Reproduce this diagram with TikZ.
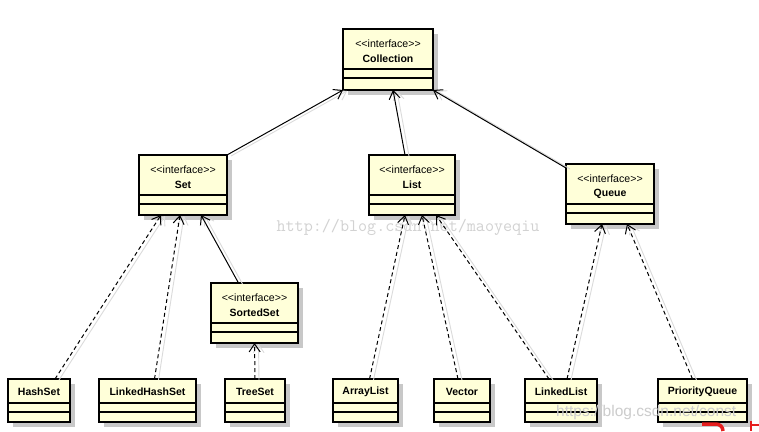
\documentclass[tikz,border=0pt]{standalone}
\usepackage{fontspec}
\setmainfont{Liberation Sans}
\usetikzlibrary{arrows.meta,calc}
\definecolor{boxfill}{RGB}{255,255,217}
\definecolor{shadowc}{RGB}{200,200,200}
\definecolor{wmgray}{RGB}{210,210,210}
\definecolor{logored}{RGB}{230,30,30}
\tikzset{
  boxst/.style={draw=black, line width=1.8pt, fill=boxfill, inner sep=0pt, outer sep=0pt, rectangle},
  sepline/.style={line width=1.2pt},
  stereo/.style={font=\fontsize{10.6}{12}\selectfont, inner sep=0pt},
  cname/.style={font=\bfseries\fontsize{10.5}{12}\selectfont, inner sep=0pt},
  conn/.style={line width=1pt, -{Straight Barb[length=8pt,width=11pt]},
    preaction={draw=black!14, solid, line width=0.9pt, transform canvas={shift={(4pt,-1pt)}}}},
  realize/.style={conn, dash pattern=on 4pt off 3pt},
}
\newcommand\ifbox[6]{%
  \fill[shadowc] (#2+5,#3+5) rectangle (#4+5,#5+5);
  \node[boxst, anchor=north west, minimum width=#4pt-#2pt, minimum height=#5pt-#3pt] (#1) at (#2,#3) {};
  \draw[sepline] ([yshift=-40pt]#1.north west) -- ([yshift=-40pt]#1.north east);
  \draw[sepline] ([yshift=-49pt]#1.north west) -- ([yshift=-49pt]#1.north east);
  \node[stereo] (#1-st) at ([yshift=-15pt]#1.north) {<\kern0pt<\kern0pt interface>\kern0pt>};
  \node[cname] (#1-nm) at ([yshift=-30pt]#1.north) {#6};
}
\newcommand\clbox[6]{%
  \fill[shadowc] (#2+5,#3+5) rectangle (#4+5,#5+5);
  \node[boxst, anchor=north west, minimum width=#4pt-#2pt, minimum height=#5pt-#3pt] (#1) at (#2,#3) {};
  \draw[sepline] ([yshift=-24pt]#1.north west) -- ([yshift=-24pt]#1.north east);
  \draw[sepline] ([yshift=-33pt]#1.north west) -- ([yshift=-33pt]#1.north east);
  \node[cname] (#1-nm) at ([yshift=-13pt]#1.north) {#6};
}
\begin{document}
\begin{tikzpicture}[x=1pt,y=-1pt]
\fill[white] (0,0) rectangle (759,431);
\useasboundingbox (0,0) rectangle (759,431);

% watermark
\node[text=wmgray, font=\ttfamily\fontsize{17.6}{19}\selectfont, inner sep=0pt] (wm) at (408,227) {http://blog.csdn.net/maoyeqiu};

% boxes
\ifbox{coll}{343}{29}{433}{90}{Collection}
\ifbox{set}{139}{155}{227}{215}{Set}
\ifbox{list}{369}{155}{455}{215}{List}
\ifbox{queue}{566}{164}{654}{224}{Queue}
\ifbox{sorted}{211}{283}{298}{343}{SortedSet}
\clbox{hashset}{8}{379}{70}{422}{HashSet}
\clbox{lhs}{99}{379}{196}{422}{LinkedHashSet}
\clbox{treeset}{225}{379}{285}{422}{TreeSet}
\clbox{alist}{333}{379}{398}{422}{ArrayList}
\clbox{vector}{434}{379}{490}{422}{Vector}
\clbox{llist}{525}{379}{597}{422}{LinkedList}
\clbox{pq}{658}{379}{747}{422}{PriorityQueue}

% generalization (solid)
\draw[conn] (set.north east) -- (coll.south west);
\draw[conn] ($(list.north)+(-7,0)$) -- ($(coll.south)+(5,0)$);
\draw[conn] ($(queue.north west)+(0,4)$) -- (coll.south east);
\draw[conn] ($(sorted.north)+(-16,0)$) -- ($(set.south)+(18,0)$);

% realization (dashed)
\draw[realize] ($(hashset.north)+(16,0)$) -- ($(set.south)+(-22,0)$);
\draw[realize] ($(lhs.north)+(7,0)$) -- ($(set.south)+(-3,0)$);
\draw[realize] (treeset.north) -- (sorted.south);
\draw[realize] ($(alist.north)+(4,0)$) -- ($(list.south)+(-7,0)$);
\draw[realize] ($(vector.north)+(-4,0)$) -- ($(list.south)+(10,0)$);
\draw[realize] ($(llist.north)+(-12,0)$) -- ($(list.south)+(24,0)$);
\draw[realize] ($(llist.north)+(6,0)$) -- ($(queue.south)+(-8,0)$);
\draw[realize] ($(pq.north)+(-10,0)$) -- ($(queue.south)+(17,0)$);

% second watermark and logo fragment
\node[text=black!20, font=\fontsize{15.5}{17}\selectfont, inner sep=0pt, anchor=west] (wm2) at (556,412) {https://blog.csdn.net/const};
\draw[logored, line width=3.5pt] (702,424) -- (716,424) to[out=0,in=90] (723,431);
\draw[logored, line width=2.5pt] (751,421) -- (751,431);
\draw[logored, line width=2.5pt] (751,425) -- (759,425);
\end{tikzpicture}
\end{document}
